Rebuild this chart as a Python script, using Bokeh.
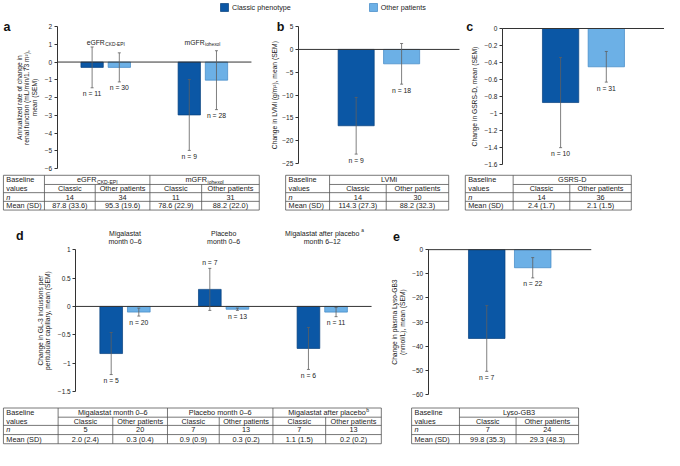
import numpy as np
from bokeh.plotting import figure
from bokeh.models import (Range1d, ColumnDataSource, Whisker, TeeHead, LinearAxis,
                          Legend, LegendItem, FixedTicker)
from bokeh.embed import file_html
from bokeh.resources import INLINE
from bokeh.core.properties import value

# ---------------- data ----------------
series_names = ["Classic phenotype", "Other patients"]

# panel a
a_groups = ["eGFR", "mGFR"]
a_group_subs = ["CKD-EPI", "iohexol"]
a_classic_mean = [-0.3, -2.98]
a_classic_sem = [1.15, 2.0]
a_classic_n = [11, 9]
a_other_mean = [-0.3, -1.02]
a_other_sem = [0.82, 1.66]
a_other_n = [30, 28]
a_ticks = [2, 1, 0, -1, -2, -3, -4, -5, -6]
a_tick_labels = ["2", "1", "0", "−1", "−2", "−3", "−4", "−5", "−6"]
a_ylabel = ["Annualized rate of change in", "renal function (mL/min/1.73 m²),", "mean (SEM)"]

# panel b
b_classic_mean = [-16.7]
b_classic_sem = [6.2]
b_classic_n = [9]
b_other_mean = [-3.15]
b_other_sem = [4.45]
b_other_n = [18]
b_ticks = [5, 0, -5, -10, -15, -20, -25]
b_tick_labels = ["5", "0", "−5", "−10", "−15", "−20", "−25"]
b_ylabel = ["Change in LVMi (g/m²), mean (SEM)"]

# panel c
c_classic_mean = [-0.87]
c_classic_sem = [0.53]
c_classic_n = [10]
c_other_mean = [-0.45]
c_other_sem = [0.18]
c_other_n = [31]
c_ticks = [0, -0.2, -0.4, -0.6, -0.8, -1, -1.2, -1.4, -1.6]
c_tick_labels = ["0", "−0.2", "−0.4", "−0.6", "−0.8", "−1", "−1.2", "−1.4", "−1.6"]
c_ylabel = ["Change in GSRS-D, mean (SEM)"]

# panel d
d_groups_line1 = ["Migalastat", "Placebo", "Migalastat after placebo"]
d_groups_sup = ["", "", "a"]
d_groups_line2 = ["month 0–6", "month 0–6", "month 6–12"]
d_classic_mean = [-0.83, 0.30, -0.74]
d_classic_sem = [0.37, 0.37, 0.37]
d_classic_n = [5, 7, 6]
d_other_mean = [-0.10, -0.05, -0.10]
d_other_sem = [0.07, 0.02, 0.08]
d_other_n = [20, 13, 11]
d_ticks = [1, 0.5, 0, -0.5, -1, -1.5]
d_tick_labels = ["1", "0.5", "0", "−0.5", "−1", "−1.5"]
d_ylabel = ["Change in GL-3 inclusions per", "peritubular capillary, mean (SEM)"]

# panel e
e_classic_mean = [-36.8]
e_classic_sem = [13.6]
e_classic_n = [7]
e_other_mean = [-7.5]
e_other_sem = [4.2]
e_other_n = [22]
e_ticks = [0, -10, -20, -30, -40, -50, -60]
e_tick_labels = ["0", "−10", "−20", "−30", "−40", "−50", "−60"]
e_ylabel = ["Change in plasma Lyso-GB3", "(nmol/L), mean (SEM)"]

# baseline tables
sub_heads = ["Classic", "Other patients"]
ta_heads = ["eGFR", "mGFR"]
ta_subs = ["CKD-EPI", "iohexol"]
ta_n = [[14, 34], [11, 31]]
ta_mean = [["87.8 (33.6)", "95.3 (19.6)"], ["78.6 (22.9)", "88.2 (22.0)"]]
tb_heads = ["LVMi"]
tb_n = [[14, 30]]
tb_mean = [["114.3 (27.3)", "88.2 (32.3)"]]
tc_heads = ["GSRS-D"]
tc_n = [[14, 36]]
tc_mean = [["2.4 (1.7)", "2.1 (1.5)"]]
td_heads = ["Migalastat month 0–6", "Placebo month 0–6", "Migalastat after placebo"]
td_sups = ["", "", "b"]
td_n = [[5, 20], [7, 13], [7, 13]]
td_mean = [["2.0 (2.4)", "0.3 (0.4)"], ["0.9 (0.9)", "0.3 (0.2)"], ["1.1 (1.5)", "0.2 (0.2)"]]
te_heads = ["Lyso-GB3"]
te_n = [[7, 24]]
te_mean = [["99.8 (35.3)", "29.3 (48.3)"]]

# ---------------- style ----------------
FONT = "Liberation Sans"
CLASSIC, CLASSIC_EDGE = "#0b57a5", "#063f7c"
OTHER, OTHER_EDGE = "#6cb0e6", "#3f86c4"
ERR = "#5f5f5f"
AXIS = "#333333"
TXT = "#222222"
GRIDC = "#555555"
TICK_FS = "6.5px"
LAB_FS = 6.7
N_FS = "6.8px"
TAB_FS = 7.3

# whole page in reference-pixel coordinates (680 x 466) drawn into 664 x 450
PW, PH = 680, 466
SX, SY = 664 / PW, 450 / PH

p = figure(width=664, height=450, x_range=Range1d(0, PW), y_range=Range1d(PH, 0),
           min_border_left=0, min_border_right=0, min_border_top=0, min_border_bottom=0,
           toolbar_location=None, output_backend="svg",
           x_axis_location=None, y_axis_location=None, outline_line_color=None)
p.xgrid.visible = False
p.ygrid.visible = False
p.grid.visible = False


def tw(s, size):
    w = 0.0
    for ch in s:
        if ch in "ilj.,:;'|!I":
            w += 0.24
        elif ch in "ft r-()":
            w += 0.31
        elif ch in "mMW":
            w += 0.85
        elif ch.isupper():
            w += 0.70
        else:
            w += 0.556
    return w * size


def txt(x, y, s, size, align="left", baseline="middle", style="normal", xo=0, yo=0,
        color=TXT, angle=0.0):
    p.text(x=[x], y=[y], text=[s], text_font=value(FONT), text_font_size=f"{size}px",
           text_font_style=style, text_align=align, text_baseline=baseline,
           x_offset=xo, y_offset=yo, text_color=color, angle=angle)


bar_renderers = {}


def panel(name, frame, ylim, ticks, tick_labels, ylabel, label_x, nG,
          cm, cs, cn, om, osd, on, off, bw):
    fx0, fx1, fy0, fy1 = frame
    ymin, ymax = ylim
    kx = nG / (fx1 - fx0)
    ky = (ymax - ymin) / (fy1 - fy0)
    p.extra_x_ranges[name] = Range1d(-fx0 * kx, nG + (PW - fx1) * kx)
    p.extra_y_ranges[name] = Range1d(ymin - (PH - fy1) * ky, ymax + fy0 * ky)
    rn = dict(x_range_name=name, y_range_name=name)

    ax = LinearAxis(y_range_name=name, fixed_location=fx0, bounds=(ymin, ymax),
                    ticker=FixedTicker(ticks=ticks),
                    major_label_overrides={t: l for t, l in zip(ticks, tick_labels)},
                    minor_tick_line_color=None, major_tick_out=3, major_tick_in=0,
                    major_tick_line_color=AXIS, axis_line_color=AXIS,
                    major_label_standoff=2, major_label_text_font=FONT,
                    major_label_text_font_size=TICK_FS, major_label_text_color=TXT)
    p.add_layout(ax, "left")

    # rotated axis title, centred on the axis
    ymid = (fy0 + fy1) / 2
    for lx, line in zip(label_x, ylabel):
        txt(lx, ymid, line, LAB_FS, align="center", angle=np.pi / 2)

    centers = np.arange(nG) + 0.5
    rends = []
    for means, sems, ns, sign, fill, edge in [(cm, cs, cn, -1, CLASSIC, CLASSIC_EDGE),
                                              (om, osd, on, 1, OTHER, OTHER_EDGE)]:
        m = np.array(means, float)
        s = np.array(sems, float)
        x = centers + sign * off
        up = m + s
        lo = m - s
        ly = np.where(m < 0, lo, up)
        yo = np.where(m < 0, 6, -6)
        src = ColumnDataSource(dict(x=x, top=m, up=up, lo=lo, ly=ly, yo=yo,
                                    lab=[f"n = {k}" for k in ns]))
        r = p.vbar(x="x", top="top", bottom=0, width=bw, source=src,
                   fill_color=fill, line_color=edge, line_width=0.7, **rn)
        rends.append(r)
        p.add_layout(Whisker(source=src, base="x", upper="up", lower="lo", level="overlay",
                             line_color=ERR, line_width=0.8,
                             upper_head=TeeHead(size=3, line_color=ERR, line_width=0.8),
                             lower_head=TeeHead(size=3, line_color=ERR, line_width=0.8), **rn))
        p.text(x="x", y="ly", text="lab", y_offset="yo", source=src,
               text_align="center", text_baseline="middle", text_font=value(FONT),
               text_font_size=N_FS, text_color=TXT, **rn)
    # zero reference line across the panel
    p.segment(x0=[0], y0=[0], x1=[nG], y1=[0], line_color=AXIS, line_width=1, **rn)
    bar_renderers[name] = rends


def table(cols, rows, heads, subs, sups, n_pairs, mean_pairs):
    L, R = cols[0], cols[-1]
    top, r1, r2, r3, bot = rows
    hy = [top, r1, r2, r3, bot]
    p.segment(x0=[L, cols[1], L, L, L], y0=hy, x1=[R] * 5, y1=hy,
              line_color=GRIDC, line_width=0.8)
    vy0 = [top if (i == 0 or i == len(cols) - 1 or i % 2 == 1) else r1 for i in range(len(cols))]
    p.segment(x0=cols, y0=vy0, x1=cols, y1=[bot] * len(cols), line_color=GRIDC, line_width=0.8)
    fs = TAB_FS
    ym = [(top + r1) / 2, (r1 + r2) / 2, (r2 + r3) / 2, (r3 + bot) / 2]
    txt(L + 3, ym[0], "Baseline", fs)
    txt(L + 3, ym[1], "values", fs)
    txt(L + 3, ym[2], "n", fs, style="italic")
    txt(L + 3, ym[3], "Mean (SD)", fs)
    for k, h in enumerate(heads):
        g0, gm, g1 = cols[1 + 2 * k], cols[2 + 2 * k], cols[3 + 2 * k]
        gx = (g0 + g1) / 2
        sub = subs[k] if subs else ""
        sup = sups[k] if sups else ""
        small = sub or sup
        if small:
            wm = tw(h, fs)
            ws = tw(small, fs * 0.7)
            dx = -(wm + ws) / 2 + wm
            txt(gx, ym[0], h, fs, align="right", xo=dx)
            txt(gx, ym[0], small, round(fs * 0.7, 1), xo=dx + 0.5, yo=2 if sub else -3)
        else:
            txt(gx, ym[0], h, fs, align="center")
        cxs = [(g0 + gm) / 2, (gm + g1) / 2]
        for j in range(2):
            txt(cxs[j], ym[1], sub_heads[j], fs, align="center")
            txt(cxs[j], ym[2], str(n_pairs[k][j]), fs, align="center")
            txt(cxs[j], ym[3], mean_pairs[k][j], fs, align="center")


def letter(x, y, s):
    txt(x, y, s, 12.5, baseline="alphabetic", style="bold", color="#111111")


OFF2, BW2 = 0.14, 0.23       # grouped panels (a, d)
OFF1, BW1 = 0.141, 0.224     # single-group panels (b, c, e)

# ---------------- panels ----------------
panel("a", (58, 257, 27, 174), (-6, 2), a_ticks, a_tick_labels, a_ylabel, [19.5, 27, 34.5], 2,
      a_classic_mean, a_classic_sem, a_classic_n, a_other_mean, a_other_sem, a_other_n, OFF2, BW2)
panel("b", (305, 470, 27, 169), (-25, 5), b_ticks, b_tick_labels, b_ylabel, [281], 1,
      b_classic_mean, b_classic_sem, b_classic_n, b_other_mean, b_other_sem, b_other_n, OFF1, BW1)
panel("c", (514, 680, 29, 170), (-1.6, 0), c_ticks, c_tick_labels, c_ylabel, [485], 1,
      c_classic_mean, c_classic_sem, c_classic_n, c_other_mean, c_other_sem, c_other_n, OFF1, BW1)
panel("d", (77, 380, 258, 405), (-1.5, 1), d_ticks, d_tick_labels, d_ylabel, [40.5, 48], 3,
      d_classic_mean, d_classic_sem, d_classic_n, d_other_mean, d_other_sem, d_other_n, OFF2, BW2)
panel("e", (438, 605, 258, 408), (-60, 0), e_ticks, e_tick_labels, e_ylabel, [404, 411.5], 1,
      e_classic_mean, e_classic_sem, e_classic_n, e_other_mean, e_other_sem, e_other_n, OFF1, BW1)

letter(3, 27, "a")
letter(283, 27, "b")
letter(477, 27, "c")
letter(16, 244, "d")
letter(402, 244, "e")

# group labels of panel a
a_centers = [107.5, 206.75]
for k in range(2):
    wm = tw(a_groups[k], 6.8)
    ws = tw(a_group_subs[k], 4.8)
    dx = -(wm + ws) / 2 + wm
    txt(a_centers[k], 43, a_groups[k], 6.8, align="right", xo=dx)
    txt(a_centers[k], 43, a_group_subs[k], 4.8, xo=dx + 0.5, yo=2)

# group titles of panel d
d_centers = [127.5, 228.5, 329.5]
for k in range(3):
    txt(d_centers[k], 241, d_groups_line1[k], 7, align="center")
    txt(d_centers[k], 250, d_groups_line2[k], 7, align="center")
    if d_groups_sup[k]:
        txt(d_centers[k], 241, d_groups_sup[k], 4.8, xo=tw(d_groups_line1[k], 7) / 2 + 0.5, yo=-3)

# ---------------- tables ----------------
ROWS1 = [181, 190.5, 199, 208, 217]
ROWS2 = [422, 431.5, 440, 449.5, 459]
table([3, 45, 97, 153, 206, 265], ROWS1, ta_heads, ta_subs, None, ta_n, ta_mean)
table([292, 337, 395, 459], ROWS1, tb_heads, None, None, tb_n, tb_mean)
table([476, 525, 583, 646], ROWS1, tc_heads, None, None, tc_n, tc_mean)
table([3, 59, 115, 171, 224, 279, 333, 390], ROWS2, td_heads, None, td_sups, td_n, td_mean)
table([421, 470, 528, 592], ROWS2, te_heads, None, None, te_n, te_mean)

# ---------------- legend ----------------
legend = Legend(items=[LegendItem(label=series_names[0], renderers=[bar_renderers["a"][0]]),
                       LegendItem(label=series_names[1], renderers=[bar_renderers["a"][1]])],
                orientation="horizontal", location=(round(224 * SX), round(450 - 12 * SY)),
                margin=0, padding=0, spacing=77, glyph_width=10, glyph_height=10,
                label_standoff=3, label_height=10, label_width=10, label_text_font=FONT,
                label_text_font_size="7.2px", label_text_color=TXT,
                label_text_baseline="middle",
                border_line_color=None, background_fill_alpha=0)
p.add_layout(legend)

open("out.html", "w").write(file_html(p, INLINE))
